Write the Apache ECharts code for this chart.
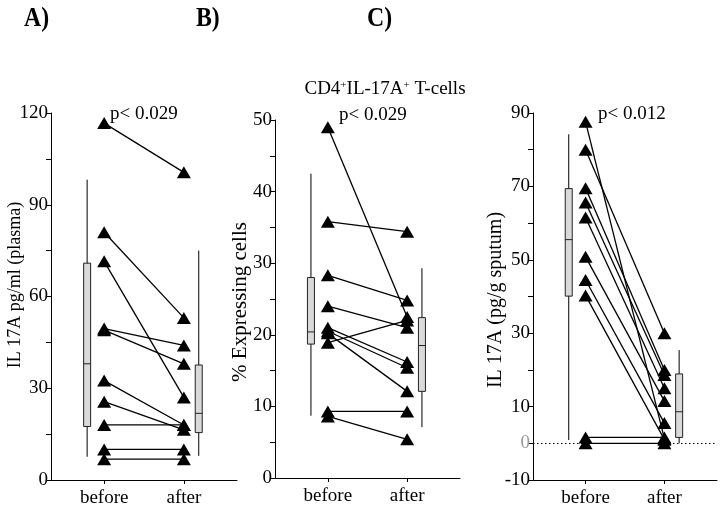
<!DOCTYPE html>
<html>
<head>
<meta charset="utf-8">
<script src="https://cdn.jsdelivr.net/npm/echarts@6/dist/echarts.min.js"></script>
<style>
  html, body { margin: 0; padding: 0; background: #fff; }
  #chart { width: 723px; height: 513px; }
</style>
</head>
<body>
<div id="chart"></div>
<script>
// x positions on a 0..3.5 value axis
var xBefore = 1, xAfter = 2.5;
var xBoxBefore = 0.68, xBoxAfter = 2.78;
var catLabels = ['before', 'after'];

// A) IL 17A pg/ml (plasma), paired before/after
var beforeA = [116.7, 81, 71.5, 49.5, 49, 32.5, 25.6, 18, 10, 6.8];
var afterA  = [100.6, 53, 27, 44, 38, 18, 16.4, 18, 10, 6.8];
// box: [min, q1, median, q3, max]
var boxBeforeA = [7.6, 17.5, 38, 70.9, 98.2];
var boxAfterA  = [7.9, 15.5, 21.8, 37.6, 75];

// B) % expressing cells
var beforeB = [49, 35.8, 28.3, 24, 21, 20.5, 20.2, 18.9, 9.3, 8.6];
var afterB  = [22.5, 34.4, 24.8, 21, 16.2, 15.4, 12.1, 22, 9.3, 5.4];
var boxBeforeB = [8.7, 18.7, 20.4, 28, 42.5];
var boxAfterB  = [7.1, 12.1, 18.5, 22.4, 29.3];

// C) IL 17A (pg/g sputum)
var beforeC = [87.6, 80, 69.5, 65.6, 61.5, 50.8, 44.5, 40.3, 1.6, 0];
var afterC  = [1.2, 30, 20, 18.6, 15, 11.5, 5.5, 1, 1.6, 0];
var boxBeforeC = [0.9, 40.1, 55.5, 69.4, 84.2];
var boxAfterC  = [0, 1.6, 8.6, 18.9, 25.4];

var labelsC = [-10, 0, 10, 30, 50, 70, 90];

var serif = '"Liberation Serif", "DejaVu Serif", serif';

var chart = echarts.init(document.getElementById('chart'));

function xAxisFor(i) {
  return {
    gridIndex: i, type: 'value', min: 0, max: 3.5,
    axisLine: { show: true, onZero: false, lineStyle: { color: '#000', width: 1 } },
    axisTick: { show: true, customValues: [xBefore, xAfter], length: 4, lineStyle: { color: '#000' } },
    axisLabel: {
      customValues: [xBefore, xAfter], margin: 9,
      fontFamily: serif, fontSize: 19, color: '#000',
      formatter: function (v) { return v === xBefore ? catLabels[0] : (v === xAfter ? catLabels[1] : ''); }
    },
    splitLine: { show: false }
  };
}

function yAxisFor(i, min, max, interval, minorSplit, labelVals) {
  var ax = {
    gridIndex: i, type: 'value', min: min, max: max, interval: interval,
    axisLine: { show: true, onZero: false, lineStyle: { color: '#000', width: 1 } },
    axisTick: { show: true, length: 5, lineStyle: { color: '#000' } },
    minorTick: { show: minorSplit > 0, splitNumber: minorSplit || 5, length: 5, lineStyle: { color: '#000' } },
    axisLabel: {
      margin: 3, fontFamily: serif, fontSize: 19, color: '#000',
      rich: { g: { fontFamily: serif, fontSize: 19, color: '#999' } }
    },
    splitLine: { show: false },
    minorSplitLine: { show: false }
  };
  if (labelVals) {
    ax.axisLabel.customValues = labelVals;
    ax.axisLabel.formatter = function (v) { return v === 0 ? '{g|0}' : String(v); };
  }
  return ax;
}

function boxSeries(i, boxB, boxA) {
  return {
    type: 'custom', xAxisIndex: i, yAxisIndex: i, z: 1, silent: true,
    data: [[xBoxBefore].concat(boxB), [xBoxAfter].concat(boxA)],
    renderItem: function (params, api) {
      var x = api.value(0);
      var pLo = api.coord([x, api.value(1)]);
      var pQ1 = api.coord([x, api.value(2)]);
      var pMed = api.coord([x, api.value(3)]);
      var pQ3 = api.coord([x, api.value(4)]);
      var pHi = api.coord([x, api.value(5)]);
      var hw = 3.5;
      return {
        type: 'group',
        children: [
          { type: 'line', shape: { x1: pLo[0], y1: pLo[1], x2: pHi[0], y2: pHi[1] }, style: { stroke: '#000', lineWidth: 1 } },
          { type: 'rect', shape: { x: pQ3[0] - hw, y: pQ3[1], width: hw * 2, height: pQ1[1] - pQ3[1] }, style: { fill: '#d9d9d9', stroke: '#222', lineWidth: 1 } },
          { type: 'line', shape: { x1: pMed[0] - hw, y1: pMed[1], x2: pMed[0] + hw, y2: pMed[1] }, style: { stroke: '#222', lineWidth: 1 } }
        ]
      };
    }
  };
}

function pairSeries(i, before, after) {
  var out = [];
  for (var k = 0; k < before.length; k++) {
    out.push({
      type: 'line', xAxisIndex: i, yAxisIndex: i, z: 3, silent: true,
      data: [[xBefore, before[k]], [xAfter, after[k]]],
      symbol: 'triangle', symbolSize: [14, 12], showSymbol: true,
      itemStyle: { color: '#000' },
      lineStyle: { color: '#000', width: 1.3 },
      animation: false
    });
  }
  return out;
}

var series = [];
series.push(boxSeries(0, boxBeforeA, boxAfterA));
series = series.concat(pairSeries(0, beforeA, afterA));
series.push(boxSeries(1, boxBeforeB, boxAfterB));
series = series.concat(pairSeries(1, beforeB, afterB));
var zeroLine = boxSeries(2, boxBeforeC, boxAfterC);
zeroLine.markLine = {
  silent: true, symbol: 'none', label: { show: false },
  lineStyle: { color: '#000', type: [1.5, 2.5], width: 1 },
  data: [{ yAxis: 0 }]
};
series.push(zeroLine);
series = series.concat(pairSeries(2, beforeC, afterC));

function txt(text, x, y, size, opts) {
  opts = opts || {};
  return {
    type: 'text', x: x, y: y, rotation: opts.rotation || 0, silent: true,
    scaleX: opts.scaleX || 1,
    style: {
      text: text, fill: '#000',
      font: (opts.bold ? 'bold ' : '') + size + 'px ' + serif,
      align: opts.align || 'left', verticalAlign: 'middle',
      rich: opts.rich
    }
  };
}

chart.setOption({
  animation: false,
  backgroundColor: '#fff',
  grid: [
    { left: 51, top: 113, width: 186, height: 367, outerBoundsMode: 'none' },
    { left: 275, top: 120, width: 185, height: 358, outerBoundsMode: 'none' },
    { left: 533, top: 113, width: 184, height: 367, outerBoundsMode: 'none' }
  ],
  xAxis: [xAxisFor(0), xAxisFor(1), xAxisFor(2)],
  yAxis: [
    yAxisFor(0, 0, 120, 30, 2),
    yAxisFor(1, 0, 50, 10, 2),
    yAxisFor(2, -10, 90, 10, 0, labelsC)
  ],
  series: series,
  graphic: [
    txt('A)', 24, 19, 28, { bold: true, scaleX: 0.85 }),
    txt('B)', 196, 19, 28, { bold: true, scaleX: 0.85 }),
    txt('C)', 367, 19, 28, { bold: true, scaleX: 0.85 }),
    txt('p< 0.029', 110, 114, 19),
    txt('p< 0.029', 339, 115, 19),
    txt('p< 0.012', 598, 114, 19),
    txt('CD4{s|+}IL-17A{s|+} T-cells', 385, 89, 19, {
      align: 'center',
      rich: { s: { fontSize: 11, fontFamily: serif, fill: '#000', verticalAlign: 'top' } }
    }),
    txt('IL 17A pg/ml (plasma)', 15, 285, 18, { align: 'center', rotation: Math.PI / 2 }),
    txt('% Expressing cells', 240, 302, 21, { align: 'center', rotation: Math.PI / 2 }),
    txt('IL 17A (pg/g sputum)', 496, 300, 20, { align: 'center', rotation: Math.PI / 2 })
  ]
});
</script>
</body>
</html>
